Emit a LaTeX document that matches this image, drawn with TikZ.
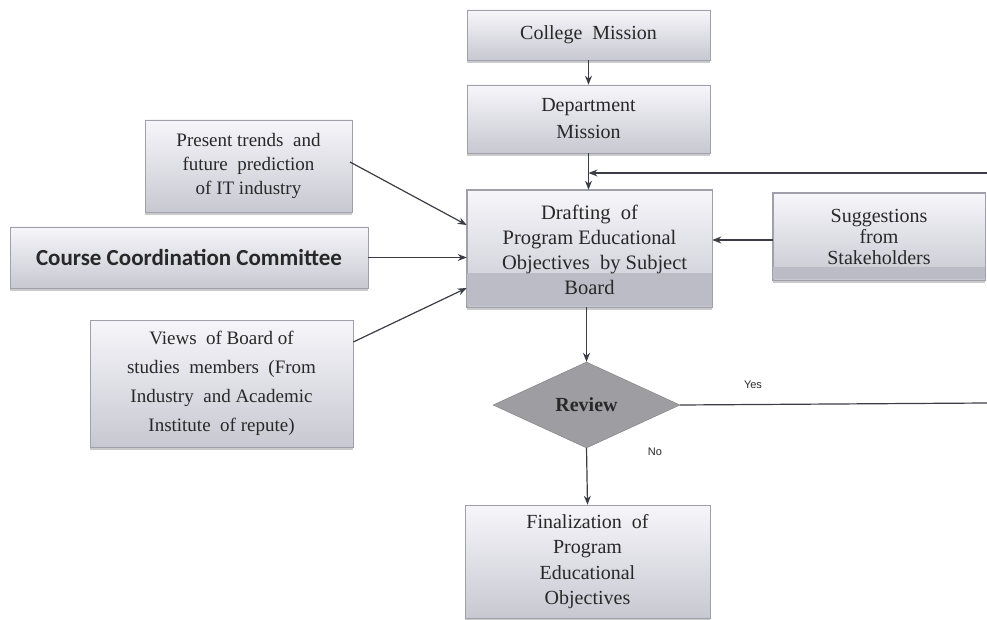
\documentclass[tikz,border=0pt]{standalone}
\usepackage{fontspec}
\setmainfont{Liberation Serif}
\newfontfamily\calfont{Carlito}
\newfontfamily\arialfont{Liberation Sans}
\usetikzlibrary{shapes.geometric,arrows.meta,shadows}
\definecolor{boxtop}{RGB}{246,246,250}
\definecolor{boxbot}{RGB}{200,200,210}
\definecolor{boxline}{RGB}{160,160,170}
\definecolor{bandc}{RGB}{188,188,198}
\definecolor{linec}{RGB}{60,60,70}
\definecolor{txtc}{RGB}{40,40,40}
\definecolor{diamc}{RGB}{158,158,162}
\tikzset{
  pbox/.style={rectangle, draw=boxline, line width=0.6pt, top color=boxtop, bottom color=boxbot,
    align=center, text=txtc, inner sep=2pt,
    drop shadow={shadow xshift=0pt, shadow yshift=-3pt, fill=black!35, opacity=0.6}},
  fA/.style={font=\fontsize{20}{25}\selectfont},
  conn/.style={draw=linec, line width=1.2pt, -{Stealth[length=9pt,width=7pt]}},
  plain/.style={draw=linec, line width=1.2pt},
  lbl/.style={font=\arialfont\fontsize{11}{13}\selectfont, text=txtc}
}
\begin{document}
\begin{tikzpicture}[x=1pt,y=-1pt]
\useasboundingbox (0,0) rectangle (987,620);
% boxes
\node[pbox, fA, minimum width=243pt, minimum height=50pt] (college) at (588.5,35) {College\ \ Mission};
\node[pbox, fA, minimum width=243pt, minimum height=68pt, font=\fontsize{20}{27}\selectfont] (dept) at (588.5,119) {Department\\Mission};
\node[pbox, fA, minimum width=207pt, minimum height=92pt, font=\fontsize{19}{24}\selectfont] (trends) at (248.5,166) {Present trends\ \ and\\future\ \ prediction\\of IT industry};
\node[pbox, minimum width=358pt, minimum height=61pt, font=\calfont\bfseries\fontsize{23}{26}\selectfont] (course) at (189,257.5) {Course Coordination Committee};
\node[pbox, minimum width=263pt, minimum height=127pt, font=\fontsize{19}{29}\selectfont] (views) at (221.5,383.5) {Views\ \ of Board of\\studies\ \ members\ \ (From\\Industry\ \ and Academic\\Institute\ \ of repute)};
\node[pbox, minimum width=245pt, minimum height=117pt] (draft) at (589.5,248.5) {};
\fill[bandc] ([xshift=0.6pt,yshift=1pt]draft.south west) rectangle ([xshift=-0.6pt,yshift=34pt]draft.south east);
\draw[boxline, line width=0.6pt] (draft.south west) rectangle (draft.north east);
\node[align=center, text=txtc, font=\fontsize{20.5}{25}\selectfont] (drafttxt) at (589.5,250) {Drafting\ \ of\\Program Educational\\\ \ Objectives\ \ by Subject\\Board};
\node[pbox, minimum width=212pt, minimum height=87pt] (sugg) at (879,236.5) {};
\fill[bandc] ([xshift=0.6pt,yshift=1pt]sugg.south west) rectangle ([xshift=-0.6pt,yshift=13pt]sugg.south east);
\draw[boxline, line width=0.6pt] (sugg.south west) rectangle (sugg.north east);
\node[align=center, text=txtc, font=\fontsize{20}{21}\selectfont] (suggtxt) at (879,237) {Suggestions\\from\\Stakeholders};
\node[diamond, fill=diamc, draw=diamc!80!black, line width=0.4pt, minimum width=187pt, minimum height=86pt, inner sep=0pt, aspect=2.2, font=\bfseries\fontsize{20}{22}\selectfont, text=txtc] (review) at (586.5,405) {Review};
\node[pbox, minimum width=245pt, minimum height=113pt, font=\fontsize{20}{25.5}\selectfont] (final) at (587.5,561.5) {Finalization\ \ of\\Program\\Educational\\Objectives};
% connectors
\coordinate (fbstart) at (987,173);
\coordinate (yesend) at (987,403);
\coordinate (join) at (dept.south |- fbstart);
\draw[conn] (college.south) -- (dept.north);
\draw[conn] (dept.south) -- (dept.south |- draft.north);
\draw[conn] (fbstart) -- (join);
\draw[conn] (350,162) -- (draft.west |- 0,225);
\draw[conn] (course.east) -- (course.east -| draft.west);
\draw[conn] (views.east |- 0,342) -- (draft.west |- 0,288);
\draw[conn] (sugg.west |- 0,240) -- (draft.east |- 0,240);
\draw[conn] (draft.south -| review.north) -- (review.north);
\draw[conn] (review.south) -- (final.north);
\draw[plain] (review.east) -- (yesend);
\node[lbl] (yes) at (753,385) {Yes};
\node[lbl] (no) at (655,452) {No};
\end{tikzpicture}
\end{document}
